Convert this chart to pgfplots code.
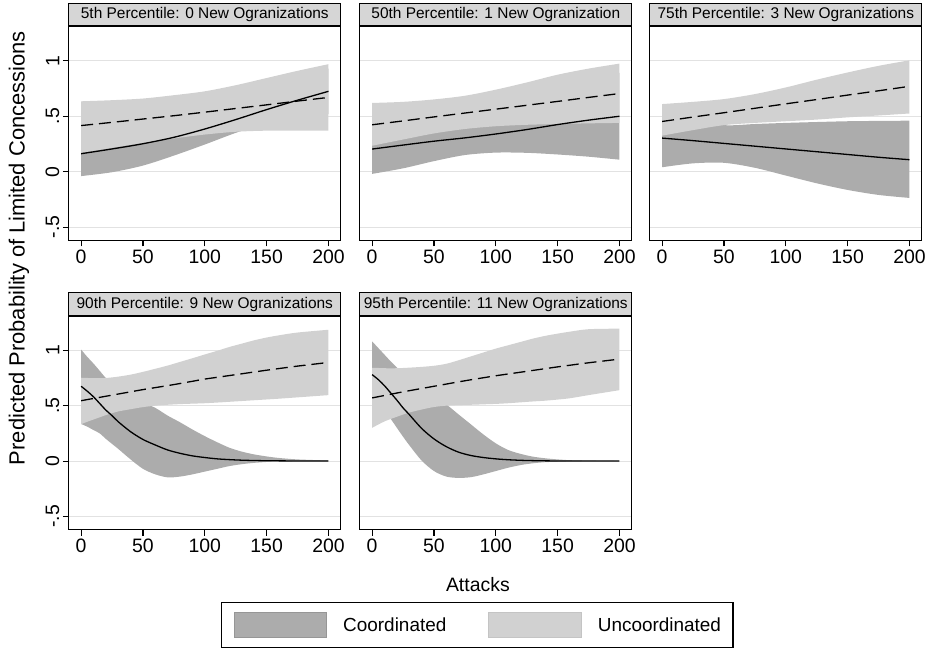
\documentclass[border=0pt]{standalone}
\usepackage{fontspec}
\setmainfont{Liberation Sans}
\usepackage{pgfplots}
\pgfplotsset{compat=1.18}
\usepackage{pgfplotstable}
\usepgfplotslibrary{fillbetween}

\definecolor{cdark}{RGB}{172,172,172}
\definecolor{clight}{RGB}{209,209,209}
\definecolor{gridc}{RGB}{226,226,226}
\definecolor{titlec}{RGB}{214,214,214}
\definecolor{cdarkline}{RGB}{150,150,150}
\definecolor{clightline}{RGB}{196,196,196}

\pgfplotstableread{
x    cl     cm     cu     ul     um     uu
0   -0.040  0.162  0.364  0.170  0.416  0.635
25  -0.005  0.205  0.415  0.215  0.445  0.645
50   0.055  0.252  0.449  0.260  0.475  0.660
75   0.145  0.310  0.475  0.300  0.505  0.690
100  0.245  0.385  0.525  0.335  0.537  0.725
125  0.350  0.470  0.590  0.360  0.570  0.780
150  0.440  0.560  0.680  0.370  0.603  0.845
175  0.490  0.645  0.800  0.370  0.637  0.910
200  0.520  0.725  0.930  0.370  0.670  0.970
}\tabA

\pgfplotstableread{
x    cl     cm     cu     ul     um     uu
0   -0.020  0.204  0.428  0.234  0.423  0.620
25   0.030  0.240  0.450  0.290  0.458  0.630
50   0.095  0.275  0.455  0.345  0.494  0.652
75   0.150  0.305  0.460  0.385  0.529  0.685
100  0.172  0.340  0.508  0.410  0.564  0.740
125  0.170  0.380  0.590  0.423  0.599  0.805
150  0.155  0.425  0.695  0.430  0.634  0.875
175  0.135  0.465  0.795  0.436  0.670  0.930
200  0.108  0.500  0.892  0.440  0.705  0.975
}\tabB

\pgfplotstableread{
x    cl     cm     cu     ul     um     uu
0    0.040  0.303  0.565  0.325  0.453  0.610
25   0.075  0.280  0.480  0.375  0.493  0.630
50   0.080  0.255  0.420  0.420  0.532  0.655
75   0.035  0.230  0.430  0.440  0.572  0.700
100 -0.035  0.205  0.440  0.455  0.612  0.760
125 -0.105  0.180  0.448  0.470  0.651  0.830
150 -0.165  0.155  0.455  0.490  0.691  0.895
175 -0.210  0.130  0.458  0.507  0.730  0.955
200 -0.237  0.108  0.460  0.525  0.770  1.005
}\tabC

\pgfplotstableread{
x    cl     cm     cu     ul     um     uu
0    0.335  0.675  1.006  0.333  0.545  0.752
5    0.310  0.630  0.940  0.355  0.555  0.750
10   0.280  0.580  0.880  0.375  0.565  0.748
15   0.250  0.520  0.815  0.395  0.575  0.748
20   0.200  0.460  0.750  0.415  0.585  0.750
25   0.155  0.410  0.710  0.432  0.595  0.755
30   0.110  0.355  0.660  0.448  0.605  0.762
40   0.015  0.265  0.590  0.468  0.625  0.780
50  -0.070  0.195  0.530  0.487  0.645  0.805
60  -0.120  0.145  0.480  0.500  0.663  0.833
70  -0.147  0.100  0.410  0.508  0.681  0.862
80  -0.140  0.070  0.350  0.514  0.700  0.895
90  -0.120  0.047  0.285  0.518  0.720  0.928
100 -0.095  0.032  0.225  0.522  0.740  0.962
110 -0.070  0.020  0.170  0.528  0.756  0.995
120 -0.045  0.013  0.120  0.535  0.772  1.030
130 -0.028  0.008  0.085  0.542  0.788  1.060
140 -0.016  0.005  0.060  0.549  0.804  1.090
150 -0.008  0.003  0.042  0.556  0.820  1.115
160 -0.004  0.002  0.028  0.563  0.835  1.135
175 -0.001  0.001  0.015  0.575  0.857  1.160
200  0.000  0.000  0.005  0.595  0.890  1.185
}\tabD

\pgfplotstableread{
x    cl     cm     cu     ul     um     uu
0    0.550  0.780  1.080  0.300  0.570  0.840
5    0.500  0.735  1.020  0.330  0.581  0.840
10   0.440  0.680  0.960  0.358  0.592  0.838
15   0.380  0.615  0.900  0.380  0.603  0.837
20   0.300  0.550  0.845  0.400  0.614  0.838
25   0.220  0.480  0.790  0.420  0.625  0.840
30   0.144  0.420  0.740  0.438  0.635  0.843
40   0.005  0.295  0.650  0.465  0.655  0.850
50  -0.090  0.200  0.570  0.488  0.675  0.860
60  -0.140  0.130  0.510  0.500  0.695  0.878
70  -0.152  0.080  0.420  0.505  0.715  0.910
80  -0.145  0.050  0.330  0.508  0.734  0.945
90  -0.120  0.032  0.240  0.512  0.752  0.980
100 -0.090  0.020  0.160  0.516  0.770  1.015
110 -0.060  0.012  0.100  0.522  0.786  1.045
120 -0.036  0.007  0.065  0.530  0.802  1.075
130 -0.020  0.004  0.040  0.538  0.818  1.105
140 -0.010  0.002  0.025  0.545  0.834  1.130
150 -0.006  0.001  0.015  0.555  0.850  1.150
160 -0.003  0.000  0.008  0.567  0.865  1.168
175 -0.001  0.000  0.004  0.595  0.887  1.190
200  0.000  0.000  0.000  0.640  0.920  1.195
}\tabE

\pgfplotsset{
 panel/.style={
  scale only axis, width=273pt, height=214.6pt,
  xmin=-10, xmax=210, ymin=-0.62, ymax=1.31,
  xtick={0,50,100,150,200}, ytick={-0.5,0,0.5,1},
  yticklabels={-.5,0,.5,1},
  ymajorgrids, major grid style={line width=1.1pt, gridc},
  axis line style={line width=1.3pt},
  tick align=outside, major tick length=6pt,
  tick style={black, line width=1.1pt},
  xtick pos=bottom, ytick pos=left,
  /pgf/number format/assume math mode=true,
  tick label style={font=\fontsize{19.5}{19.5}\selectfont},
  yticklabel style={rotate=90, anchor=south},
  anchor=south west,
 },
 noy/.style={yticklabels={}, ytick style={draw=none}},
}

\newcommand{\drawpanel}[2]{%
 \addplot[draw=none, forget plot, smooth, name path=cu#2] table[x=x,y=cu]{#1};
 \addplot[draw=none, forget plot, smooth, name path=cl#2] table[x=x,y=cl]{#1};
 \addplot[draw=none, forget plot, smooth, name path=uu#2] table[x=x,y=uu]{#1};
 \addplot[draw=none, forget plot, smooth, name path=ul#2] table[x=x,y=ul]{#1};
 \addplot[fill=cdark, draw=none,
   legend image code/.code={\draw[fill=cdark, draw=cdarkline, line width=1pt] (0pt,-12pt) rectangle (93pt,13pt);}]
   fill between[of=cu#2 and cl#2];
 \addplot[fill=clight, draw=none,
   legend image code/.code={\draw[fill=clight, draw=clightline, line width=1pt] (0pt,-12pt) rectangle (93pt,13pt);}]
   fill between[of=uu#2 and ul#2];
 \addplot[black, line width=1.3pt, smooth, forget plot] table[x=x,y=cm]{#1};
 \addplot[black, line width=1.3pt, smooth, dash pattern=on 12pt off 6pt, forget plot] table[x=x,y=um]{#1};
}

\tikzset{titlebox/.style={draw=black, line width=1.2pt, fill=titlec, minimum width=273pt,
  minimum height=22.5pt, inner sep=0pt, anchor=south, font=\fontsize{15.5}{15.5}\selectfont}}

\begin{document}
\begin{tikzpicture}

\begin{axis}[panel, name=p1, at={(69pt,408.8pt)}]
 \drawpanel{\tabA}{a}
\end{axis}
\begin{axis}[panel, noy, name=p2, at={(361pt,408.8pt)}]
 \drawpanel{\tabB}{b}
\end{axis}
\begin{axis}[panel, noy, name=p3, at={(652pt,408.8pt)}]
 \drawpanel{\tabC}{c}
\end{axis}
\begin{axis}[panel, name=p4, at={(69pt,118.4pt)}]
 \drawpanel{\tabD}{d}
\end{axis}
\begin{axis}[panel, noy, name=p5, at={(361pt,118.4pt)},
  legend style={at={(0.432,-0.445)}, anchor=center, draw=black, line width=1.2pt, fill=white,
    legend columns=2, font=\fontsize{19}{19}\selectfont, inner xsep=12pt, inner ysep=9.5pt,
    nodes={inner sep=0pt},
    /tikz/every odd column/.append style={column sep=16pt},
    /tikz/every even column/.append style={column sep=42pt}},
  legend cell align=left]
 \drawpanel{\tabE}{e}
 \legend{Coordinated,Uncoordinated}
\end{axis}

\node[titlebox] at (p1.north) {5th Percentile: 0 New Ogranizations};
\node[titlebox] at (p2.north) {50th Percentile: 1 New Ogranization};
\node[titlebox] at (p3.north) {75th Percentile: 3 New Ogranizations};
\node[titlebox] at (p4.north) {90th Percentile: 9 New Ogranizations};
\node[titlebox] at (p5.north) {95th Percentile: 11 New Ogranizations};

\node[rotate=90, font=\fontsize{22}{22}\selectfont] at (19pt,401pt) {Predicted Probability of Limited Concessions};
\node[font=\fontsize{19.5}{19.5}\selectfont] at (479.5pt,63pt) {Attacks};
\path (0pt,0pt) rectangle (929pt,650pt);
\end{tikzpicture}
\end{document}
